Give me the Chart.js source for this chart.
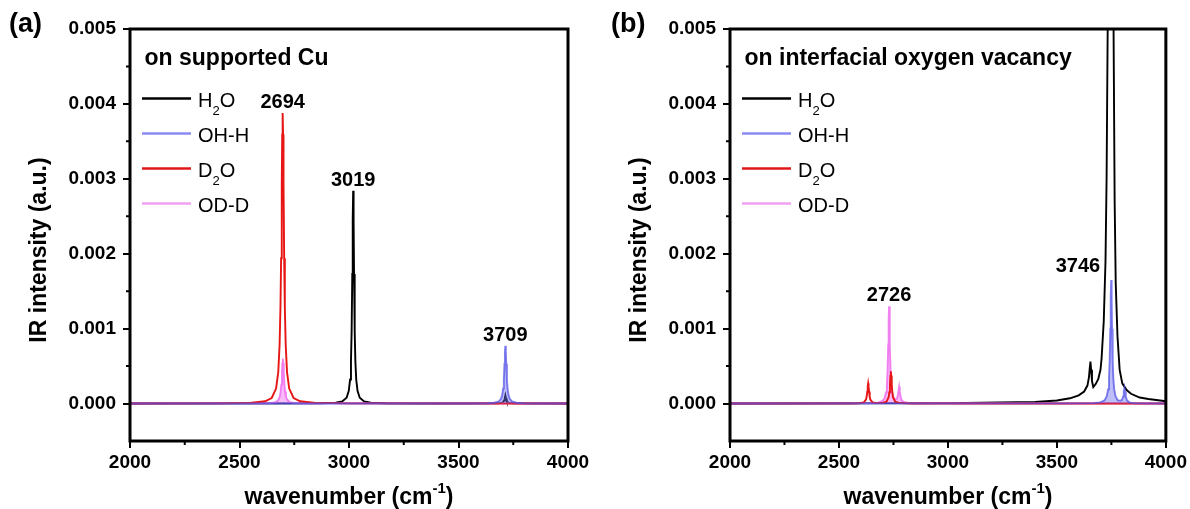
<!DOCTYPE html>
<html><head><meta charset="utf-8">
<script src="https://cdn.jsdelivr.net/npm/chart.js@4/dist/chart.umd.min.js"></script>
<style>
html,body{margin:0;padding:0;background:#fff;width:1190px;height:509px;overflow:hidden}
#wa{position:absolute;left:0;top:0;width:600px;height:509px}
#wb{position:absolute;left:600px;top:0;width:590px;height:509px}
</style></head><body>
<div id="wa"><canvas id="ca" width="600" height="509"></canvas></div>
<div id="wb"><canvas id="cb" width="590" height="509"></canvas></div>
<script>
// ---------- labels / ticks ----------
const seriesNames = ['H₂O', 'OH-H', 'D₂O', 'OD-D'];
const xTicks = [2000, 2500, 3000, 3500, 4000];
const xMinorTicks = [2250, 2750, 3250, 3750];
const yTicks = [0, 0.001, 0.002, 0.003, 0.004, 0.005];
const yMinorTicks = [0.0005, 0.0015, 0.0025, 0.0035, 0.0045];
const panelNames = ['(a)', '(b)'];
const panelNotes = ['on supported Cu', 'on interfacial oxygen vacancy'];
const xTitle = 'wavenumber (cm⁻¹)';
const yTitle = 'IR intensity (a.u.)';

// ---------- panel (a): on supported Cu ----------
const aH2O_x = [2000, 2869, 2939, 2969, 2989, 2999, 3005, 3009, 3012, 3015, 3017, 3019, 3021, 3023, 3026, 3029, 3033, 3039, 3049, 3069, 3099, 3169, 3400, 3680, 3700, 3708, 3711, 3714, 3717, 3720, 3728, 3750, 4000];
const aH2O_y = [0, 0.000003, 0.000011, 0.000028, 0.000077, 0.00017, 0.00032, 0.00057, 0.00096, 0.00173, 0.00245, 0.00284, 0.00245, 0.00173, 0.00096, 0.00057, 0.00032, 0.00017, 0.000077, 0.000028, 0.000011, 0.000003, 0.000001, 0.000004, 0.00001, 0.00004, 0.00007, 0.00011, 0.00007, 0.00004, 0.00001, 0.000004, 0];
const aOHH_x = [2000, 3564, 3634, 3664, 3684, 3694, 3700, 3704, 3707, 3710, 3712, 3714, 3716, 3718, 3721, 3724, 3728, 3734, 3744, 3764, 3794, 3864, 4000];
const aOHH_y = [0, 0.000001, 0.000004, 0.000011, 0.000029, 0.000064, 0.00012, 0.0002, 0.00032, 0.00053, 0.00069, 0.00077, 0.00069, 0.00053, 0.00032, 0.0002, 0.00012, 0.000064, 0.000029, 0.000011, 0.000004, 0.000001, 0];
const aD2O_x = [2000, 2397, 2547, 2617, 2647, 2667, 2677, 2683, 2687, 2690, 2693, 2695, 2697, 2699, 2701, 2704, 2707, 2711, 2717, 2727, 2747, 2777, 2847, 2997, 4000];
const aD2O_y = [0, 0.000002, 0.0000085, 0.00003, 0.000074, 0.0002, 0.00042, 0.00078, 0.00128, 0.00194, 0.00293, 0.00359, 0.00388, 0.00359, 0.00293, 0.00194, 0.00128, 0.00078, 0.00042, 0.0002, 0.000074, 0.00003, 0.0000085, 0.000002, 0];
const aODD_x = [2000, 2618, 2648, 2668, 2678, 2684, 2688, 2691, 2694, 2696, 2698, 2700, 2702, 2705, 2708, 2712, 2718, 2728, 2748, 2778, 4000];
const aODD_y = [0, 0.0000034, 0.0000084, 0.000023, 0.00005, 0.000093, 0.00016, 0.00025, 0.00042, 0.00054, 0.0006, 0.00054, 0.00042, 0.00025, 0.00016, 0.000093, 0.00005, 0.000023, 0.0000084, 0.0000034, 0];
const aPeakText = ['2694', '3019', '3709'];
const aPeakX = [2697, 3019, 3714];
const aPeakY = [0.00388, 0.00284, 0.00077];

// ---------- panel (b): on interfacial oxygen vacancy ----------
const bH2O_x = [2000, 3000, 3400, 3500, 3560, 3600, 3625, 3640, 3647, 3651, 3654, 3657, 3661, 3667, 3678, 3690, 3700, 3705, 3715, 3723, 3728, 3733, 3738, 3742, 3745, 3748, 3751, 3755, 3760, 3765, 3770, 3778, 3788, 3800, 3820, 3840, 3880, 3920, 4000];
const bH2O_y = [0, 0.000005, 0.00002, 0.00004, 0.00007, 0.00011, 0.00016, 0.00024, 0.00035, 0.00048, 0.00056, 0.00045, 0.0003, 0.00022, 0.00026, 0.00033, 0.00045, 0.0006, 0.0011, 0.0019, 0.003, 0.005, 0.0095, 0.018, 0.03, 0.03, 0.018, 0.0095, 0.005, 0.0027, 0.0016, 0.0009, 0.00045, 0.00027, 0.00018, 0.00013, 0.00008, 0.00006, 0.00003];
const bOHH_x = [2000, 3599, 3669, 3699, 3719, 3729, 3735, 3739, 3742, 3745, 3747, 3749, 3751, 3753, 3756, 3759, 3763, 3769, 3779, 3790, 3799, 3804, 3807, 3810, 3813, 3816, 3822, 3835, 3870, 4000];
const bOHH_y = [0, 0.000002, 0.000006, 0.000016, 0.000044, 0.000097, 0.00019, 0.00033, 0.00056, 0.001, 0.00142, 0.00165, 0.00142, 0.001, 0.00056, 0.00033, 0.00019, 0.000097, 0.000044, 0.000036, 0.00005, 0.000095, 0.00016, 0.00021, 0.000157, 0.000092, 0.00004, 0.000013, 0.000002, 0];
const bD2O_x = [2000, 2560, 2594, 2614, 2624, 2627, 2630, 2632, 2634, 2636, 2638, 2641, 2644, 2654, 2674, 2690, 2698, 2718, 2728, 2731, 2734, 2736, 2738, 2740, 2742, 2745, 2748, 2758, 2778, 2830, 4000];
const bD2O_y = [0, 0.000001, 0.000004, 0.000016, 0.000054, 0.00009, 0.00016, 0.00023, 0.00027, 0.00023, 0.00016, 0.00009, 0.000054, 0.000016, 0.000006, 0.000006, 0.0000067, 0.000025, 0.000086, 0.00015, 0.00026, 0.00037, 0.00043, 0.00037, 0.00026, 0.00015, 0.000086, 0.000025, 0.0000067, 0.000001, 0];
const bODD_x = [2000, 2650, 2680, 2700, 2710, 2716, 2720, 2723, 2726, 2728, 2730, 2732, 2734, 2737, 2740, 2744, 2750, 2760, 2766, 2770, 2773, 2776, 2779, 2782, 2786, 2796, 2830, 4000];
const bODD_y = [0, 0.000005, 0.000013, 0.000035, 0.000077, 0.00015, 0.00026, 0.00044, 0.00079, 0.00112, 0.0013, 0.00112, 0.00079, 0.00044, 0.00026, 0.00015, 0.000077, 0.000055, 0.000066, 0.000106, 0.00017, 0.000226, 0.000164, 0.0001, 0.000053, 0.000021, 0.000003, 0];
const bPeakText = ['2726', '3746'];
const bPeakX = [2730, 3749];
const bPeakY = [0.0013, 0.00165];

// ---------- styles ----------
const FAMILY = '"Liberation Sans", Arial, Helvetica, sans-serif';
const lineColors = ['#000000', 'rgba(80,80,230,0.72)', '#e81515', 'rgba(238,110,238,0.85)'];
const fillColors = [null, 'rgba(110,110,240,0.45)', null, 'rgba(245,120,245,0.5)'];
const legendColors = ['#000000', '#8a8af2', '#e01818', '#f2a0f2'];
const drawOrder = [4, 1, 2, 3];

const zip = (xs, ys) => xs.map((v, i) => ({ x: v, y: ys[i] }));

function makeDatasets(series) {
  return series.map((s, i) => ({
    label: seriesNames[i],
    data: zip(s[0], s[1]),
    borderColor: lineColors[i],
    backgroundColor: fillColors[i] || 'transparent',
    fill: fillColors[i] ? 'origin' : false,
    borderWidth: 1.9,
    pointRadius: 0,
    tension: 0,
    order: drawOrder[i]
  }));
}

function richText(ctx, str, x, y, size, weight, align) {
  const subMap = { '₂': '2' }, supMap = { '⁻': '-', '¹': '1' };
  const segs = [];
  for (const ch of str) {
    let kind = 'n', c = ch;
    if (subMap[ch]) { kind = 'sub'; c = subMap[ch]; }
    else if (supMap[ch]) { kind = 'sup'; c = supMap[ch]; }
    const last = segs[segs.length - 1];
    if (last && last.kind === kind) last.t += c; else segs.push({ kind, t: c });
  }
  const small = Math.round(size * 0.66);
  const font = s => `${weight} ${s}px ${FAMILY}`;
  let w = 0;
  segs.forEach(s => { ctx.font = font(s.kind === 'n' ? size : small); s.w = ctx.measureText(s.t).width; w += s.w; });
  let cx = align === 'center' ? x - w / 2 : align === 'right' ? x - w : x;
  ctx.textAlign = 'left'; ctx.textBaseline = 'alphabetic';
  segs.forEach(s => {
    ctx.font = font(s.kind === 'n' ? size : small);
    const dy = s.kind === 'sub' ? size * 0.4 : s.kind === 'sup' ? -size * 0.48 : 0;
    ctx.fillText(s.t, cx, y + dy);
    cx += s.w;
  });
}

function decoPlugin(p) {
  return {
    id: 'deco',
    afterDraw(chart) {
      const { ctx, chartArea: ca } = chart;
      const xs = chart.scales.x, ys = chart.scales.y;
      ctx.save();
      ctx.fillStyle = '#000';
      ctx.strokeStyle = '#000';
      // frame
      ctx.lineWidth = 3;
      ctx.strokeRect(ca.left, ca.top, ca.right - ca.left, ca.bottom - ca.top);
      // minor ticks
      ctx.lineWidth = 2;
      ctx.beginPath();
      xMinorTicks.forEach(v => { const px = xs.getPixelForValue(v); ctx.moveTo(px, ca.bottom); ctx.lineTo(px, ca.bottom + 4); });
      yMinorTicks.forEach(v => { const py = ys.getPixelForValue(v); ctx.moveTo(ca.left, py); ctx.lineTo(ca.left - 4, py); });
      ctx.stroke();
      // panel letter
      ctx.font = `bold 27px ${FAMILY}`;
      ctx.textAlign = 'left'; ctx.textBaseline = 'alphabetic';
      ctx.fillText(p.name, p.letterX, 32);
      // note
      ctx.font = `bold 23px ${FAMILY}`;
      ctx.fillText(p.note, ca.left + 14.5, ca.top + 36);
      // legend
      chart.data.datasets.forEach((d, i) => {
        const ly = ca.top + 69.5 + 35 * i;
        ctx.strokeStyle = legendColors[i];
        ctx.lineWidth = 2.5;
        ctx.beginPath(); ctx.moveTo(ca.left + 12, ly); ctx.lineTo(ca.left + 61, ly); ctx.stroke();
        ctx.fillStyle = '#000';
        richText(ctx, d.label, ca.left + 68, ly + 8, 20, 'normal', 'left');
      });
      // peak labels
      p.peakText.forEach((t, i) => {
        const px = xs.getPixelForValue(p.peakX[i]);
        const py = ys.getPixelForValue(p.peakY[i]);
        const al = p.peakAlign[i];
        ctx.fillStyle = '#000';
        if (al === 'right') richText(ctx, t, px - 11, py - 8, 20, 'bold', 'right');
        else richText(ctx, t, px, py - 5, 20, 'bold', 'center');
      });
      // axis titles
      richText(ctx, xTitle, (ca.left + ca.right) / 2, 504, 23, 'bold', 'center');
      ctx.save();
      ctx.translate(46, (ca.top + ca.bottom) / 2 + 15);
      ctx.rotate(-Math.PI / 2);
      richText(ctx, yTitle, 0, 0, 23, 'bold', 'center');
      ctx.restore();
      ctx.restore();
    }
  };
}

function makeChart(canvasId, series, p, rightPad) {
  const tickFont = { family: FAMILY, size: 19, weight: 'bold' };
  return new Chart(document.getElementById(canvasId), {
    type: 'line',
    data: { datasets: makeDatasets(series) },
    options: {
      responsive: false,
      animation: false,
      devicePixelRatio: 1,
      layout: { padding: { left: 0, top: 29, right: rightPad, bottom: 0 } },
      plugins: { legend: { display: false }, tooltip: { enabled: false } },
      scales: {
        x: {
          type: 'linear', min: 2000, max: 4000,
          afterBuildTicks: s => { s.ticks = xTicks.map(v => ({ value: v })); },
          afterFit: s => { s.height = 68; },
          ticks: { font: tickFont, color: '#000', padding: 3, maxRotation: 0, callback: v => String(v) },
          grid: { drawOnChartArea: false, drawTicks: true, tickLength: 7, lineWidth: 2, color: '#000', tickColor: '#000' },
          border: { display: false }
        },
        y: {
          type: 'linear', min: -0.0005, max: 0.005,
          afterBuildTicks: s => { s.ticks = yTicks.map(v => ({ value: v })); },
          afterFit: s => { s.width = 130; },
          ticks: { font: tickFont, color: '#000', padding: 7, callback: v => Number(v).toFixed(3) },
          grid: { drawOnChartArea: false, drawTicks: true, tickLength: 7, lineWidth: 2, color: '#000', tickColor: '#000' },
          border: { display: false }
        }
      }
    },
    plugins: [decoPlugin(p)]
  });
}

makeChart('ca',
  [[aH2O_x, aH2O_y], [aOHH_x, aOHH_y], [aD2O_x, aD2O_y], [aODD_x, aODD_y]],
  { name: panelNames[0], note: panelNotes[0], letterX: 9, peakText: aPeakText, peakX: aPeakX, peakY: aPeakY, peakAlign: ['center', 'center', 'center'] },
  32);
makeChart('cb',
  [[bH2O_x, bH2O_y], [bOHH_x, bOHH_y], [bD2O_x, bD2O_y], [bODD_x, bODD_y]],
  { name: panelNames[1], note: panelNotes[1], letterX: 11, peakText: bPeakText, peakX: bPeakX, peakY: bPeakY, peakAlign: ['center', 'right'] },
  22);
</script>
</body></html>
